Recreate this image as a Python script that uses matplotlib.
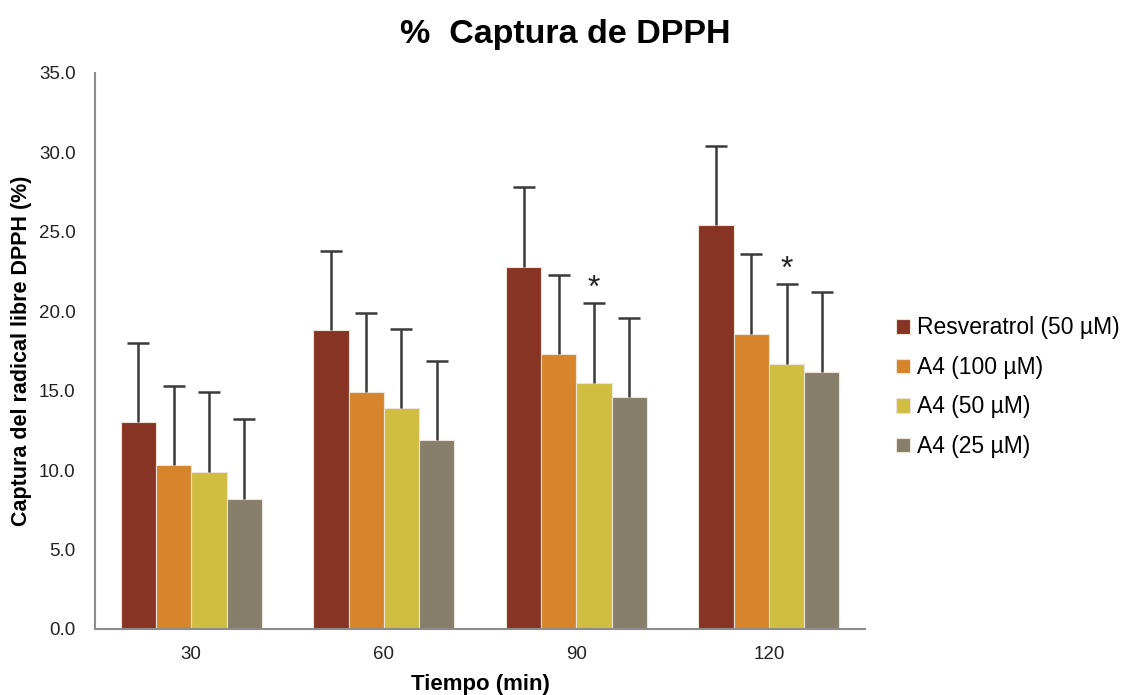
import matplotlib
matplotlib.use("Agg")
import matplotlib.pyplot as plt
import numpy as np

plt.rcParams['font.family'] = ['Liberation Sans', 'DejaVu Sans']

categories = ["30", "60", "90", "120"]
series_names = ["Resveratrol (50 µM)", "A4 (100 µM)", "A4 (50 µM)", "A4 (25 µM)"]
resveratrol = [13.0, 18.8, 22.8, 25.4]
a4_100 = [10.3, 14.9, 17.3, 18.6]
a4_50 = [9.9, 13.9, 15.5, 16.7]
a4_25 = [8.2, 11.9, 14.6, 16.2]
err_res = [5.0, 5.0, 5.0, 5.0]
err_100 = [5.0, 5.0, 5.0, 5.0]
err_50 = [5.0, 5.0, 5.0, 5.0]
err_25 = [5.0, 5.0, 5.0, 5.0]
colors = ["#873424", "#D6852D", "#CFBE42", "#877E6B"]
star_groups = [2, 3]  # A4 (50 µM) significant at 90 and 120
yticks = [0, 5, 10, 15, 20, 25, 30, 35]

fig = plt.figure(figsize=(11.31, 6.95), dpi=100)
ax = fig.add_axes([0.084, 0.095, 0.681, 0.800])

x = np.arange(len(categories))
width = 0.183
series = [resveratrol, a4_100, a4_50, a4_25]
errs = [err_res, err_100, err_50, err_25]
for i, (vals, e, c, name) in enumerate(zip(series, errs, colors, series_names)):
    pos = x + (i - 1.5) * width
    ax.bar(pos, vals, width, color=c, edgecolor="#EDE3D6", linewidth=0.8, label=name, zorder=2)
    eb = ax.errorbar(pos, vals, yerr=[np.zeros(len(vals)), e], fmt="none", ecolor="#3A3A3A",
                     elinewidth=1.8, capsize=8, capthick=1.8, zorder=3)
    # hide the lower caps (only upper error bars are shown)
    eb[1][0].set_visible(False)

for g in star_groups:
    pos = x[g] + 0.5 * width
    top = a4_50[g] + err_50[g]
    ax.text(pos, top - 0.05, "*", ha="center", va="bottom", fontsize=23, color="#222222")

ax.set_xlim(-0.5, 3.5)
ax.set_ylim(0, 35)
ax.set_xticks(x)
ax.set_xticklabels(categories, fontsize=13.5, color="#222222")
ax.set_yticks(yticks)
ax.set_yticklabels([f"{v:.1f}" for v in yticks], fontsize=13.5, color="#222222")
ax.tick_params(axis="both", length=0)
ax.tick_params(axis="x", pad=12)
ax.tick_params(axis="y", pad=14)
for s in ["top", "right"]:
    ax.spines[s].set_visible(False)
for s in ["left", "bottom"]:
    ax.spines[s].set_color("#8C8C8C")
    ax.spines[s].set_linewidth(1.5)

ax.set_xlabel("Tiempo (min)", fontsize=16, fontweight="bold", labelpad=8)
ax.set_ylabel("Captura del radical libre DPPH (%)", fontsize=15.5, fontweight="bold", labelpad=5)
fig.suptitle("%  Captura de DPPH", fontsize=24.5, fontweight="bold", x=0.5, y=0.972)

leg = ax.legend(loc="center left", bbox_to_anchor=(1.04, 0.435), frameon=False, fontsize=16.5,
                handlelength=0.6, handleheight=0.6, handletextpad=0.3, labelspacing=0.72,
                borderaxespad=0, borderpad=0)

fig.savefig("out.png", dpi=100)
